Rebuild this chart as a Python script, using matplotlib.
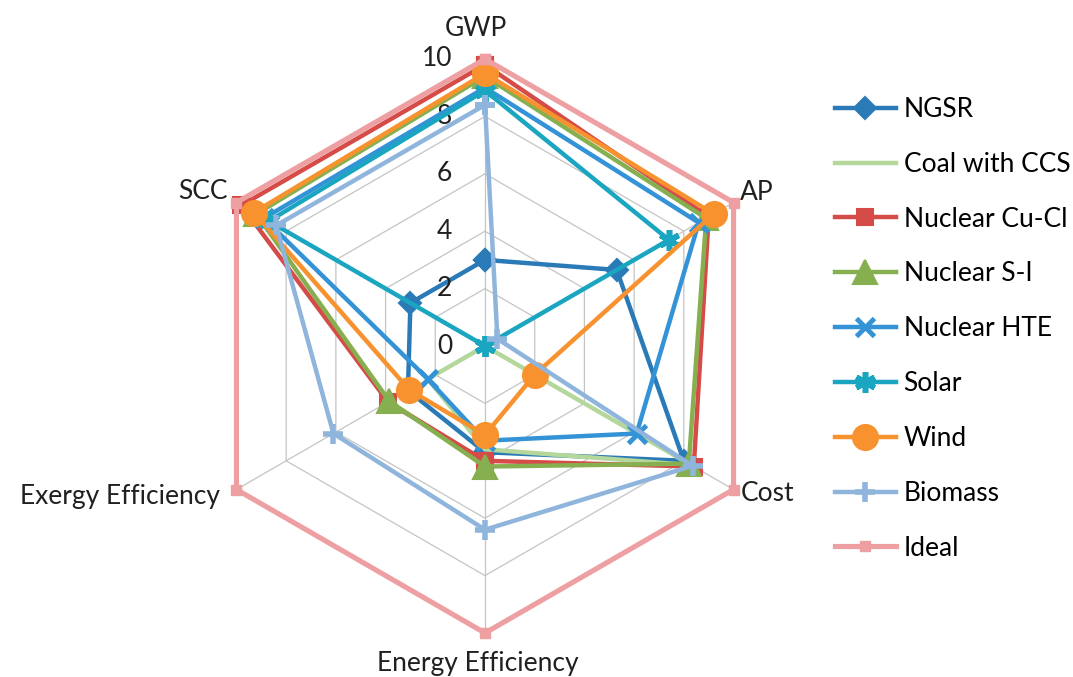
import numpy as np
import matplotlib
matplotlib.use("Agg")
import matplotlib.pyplot as plt
from matplotlib.lines import Line2D

plt.rcParams['font.family'] = ['Lato', 'DejaVu Sans']

# ---------------- data ----------------
axis_labels = ["GWP", "AP", "Cost", "Energy Efficiency", "Exergy Efficiency", "SCC"]
tick_values = [0, 2, 4, 6, 8, 10]
series_names = ["NGSR", "Coal with CCS", "Nuclear Cu-Cl", "Nuclear S-I",
                "Nuclear HTE", "Solar", "Wind", "Biomass", "Ideal"]

ngsr    = [3.0, 5.3, 8.0, 3.7, 3.1, 3.0]
coal    = [0.0, 0.0, 8.3, 3.6, 2.3, 0.0]
cucl    = [9.8, 9.0, 8.4, 4.0, 3.9, 9.8]
si      = [9.4, 8.9, 8.2, 4.2, 3.85, 9.2]
hte     = [9.0, 8.6, 6.1, 3.3, 2.3, 8.9]
solar   = [8.9, 7.4, 0.0, 0.0, 0.0, 8.7]
wind    = [9.5, 9.2, 2.0, 3.1, 3.05, 9.3]
biomass = [8.4, 0.5, 8.35, 6.4, 6.1, 8.4]
ideal   = [10, 10, 10, 10, 10, 10]

all_series = [ngsr, coal, cucl, si, hte, solar, wind, biomass, ideal]

# ---------------- styles ----------------
colors = ["#2A7AB8", "#B4D79C", "#D54B47", "#86B050", "#3393D6",
          "#1AA5C0", "#F7922F", "#8FB5DC", "#EE9FA1"]
markers = ["D", None, "s", "^", "x", (6, 2, 0), "o", "+", "s"]
msizes = [11, 0, 12, 17, 13, 15, 18, 15, 7]
mews = [1.5, 0, 1.5, 1.5, 3.5, 4.0, 1.5, 4.0, 1.0]
lws = [3.2, 3.2, 3.2, 3.2, 3.2, 3.2, 3.2, 3.2, 3.7]

W, H = 1073, 677
fig = plt.figure(figsize=(W / 100, H / 100), dpi=100)
cx, cy, R = 485, 346, 287
ax = fig.add_axes([(cx - R) / W, (H - cy - R) / H, 2 * R / W, 2 * R / H],
                  projection='polar')
ax.set_theta_zero_location('N')
ax.set_theta_direction(-1)
ax.set_ylim(0, 10)
ax.set_xticks([])
ax.set_yticks([])
ax.grid(False)
ax.spines['polar'].set_visible(False)
ax.patch.set_visible(False)

n = len(axis_labels)
angles = np.linspace(0, 2 * np.pi, n, endpoint=False)
ang_c = np.concatenate([angles, angles[:1]])

grid_col = "#C4C4C4"
for r in tick_values[1:]:
    ax.plot(ang_c, [r] * (n + 1), color=grid_col, lw=0.9, zorder=0.5)
for a in angles:
    ax.plot([a, a], [0, 10], color=grid_col, lw=0.9, zorder=0.5)

handles = []
for i, (vals, name) in enumerate(zip(all_series, series_names)):
    v = np.concatenate([vals, vals[:1]])
    kw = dict(color=colors[i], lw=lws[i], clip_on=False, zorder=2 + i,
              solid_joinstyle='miter')
    if markers[i] is not None:
        kw.update(marker=markers[i], markersize=msizes[i], mfc=colors[i],
                  mec=colors[i], mew=mews[i])
    ax.plot(ang_c, v, **kw)
    handles.append(Line2D([], [], **{k: val for k, val in kw.items()
                                     if k not in ('clip_on', 'zorder')}))

# tick labels along GWP axis
for t in tick_values:
    ax.annotate(str(t), xy=(0, t), xytext=(-33, 0), textcoords='offset pixels',
                ha='right', va='center', fontsize=19, color='#202020',
                annotation_clip=False)

# axis labels
label_offsets = [(-9, 31, 'center'), (6, 10, 'left'), (7, -4, 'left'),
                 (-7, -30, 'center'), (-16, -7, 'right'), (-9, 11, 'right')]
for a, lab, (dx, dy, ha) in zip(angles, axis_labels, label_offsets):
    ax.annotate(lab, xy=(a, 10), xytext=(dx, dy), textcoords='offset pixels',
                ha=ha, va='center', fontsize=19, color='#202020',
                annotation_clip=False)

fig.legend(handles, series_names, loc='upper left',
           bbox_to_anchor=(835 / W, 1 - 97 / H), frameon=False,
           fontsize=19, handlelength=2.3, handletextpad=0.3,
           labelspacing=1.13, borderpad=0, borderaxespad=0)

fig.savefig("out.png", dpi=100)
